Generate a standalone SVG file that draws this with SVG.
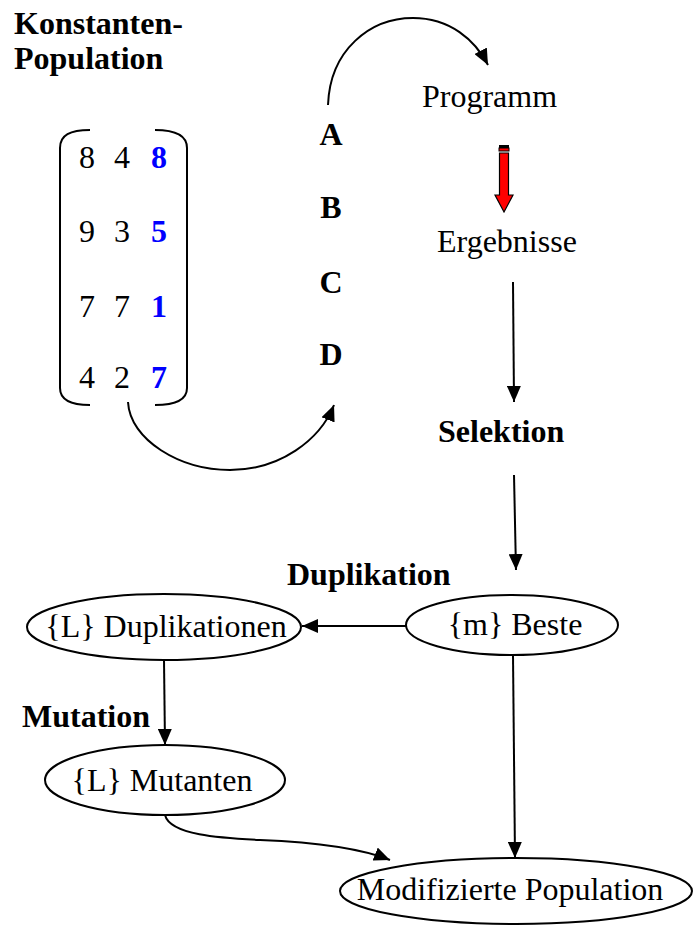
<svg xmlns="http://www.w3.org/2000/svg" width="699" height="928" viewBox="0 0 699 928">
<style>
text{font-family:"Liberation Serif","Times New Roman",serif;font-size:32px;fill:#000}
.b{font-weight:bold}
.blue{fill:#0000ff;font-weight:bold}
.c{text-anchor:middle}
.ln{fill:none;stroke:#000;stroke-width:2}
.node{fill:#fff;stroke:#000;stroke-width:2}
</style>
<defs>
<marker id="ah" markerWidth="16" markerHeight="14" refX="16" refY="7" orient="auto" markerUnits="userSpaceOnUse">
<path d="M0,0 L16,7 L0,14 Z" fill="#000"/>
</marker>
</defs>
<rect width="699" height="928" fill="#fff"/>
<g id="title">
<text class="b" x="14" y="34">Konstanten-</text>
<text class="b" x="14" y="69">Population</text>
</g>
<g id="matrix">
<path class="ln" d="M90,130 C70,130 60,135 60,148 L60,388 C60,400 70,405 90,405"/>
<path class="ln" d="M155,130 C175,130 187,135 187,148 L187,388 C187,400 175,405 155,405"/>
<text class="c" x="87" y="168">8</text><text class="c" x="122" y="168">4</text><text class="c blue" x="159" y="168">8</text>
<text class="c" x="87" y="242">9</text><text class="c" x="122" y="242">3</text><text class="c blue" x="159" y="242">5</text>
<text class="c" x="87" y="317">7</text><text class="c" x="122" y="317">7</text><text class="c blue" x="159" y="317">1</text>
<text class="c" x="87" y="388">4</text><text class="c" x="122" y="388">2</text><text class="c blue" x="159" y="388">7</text>
</g>
<g id="letters">
<text class="b c" x="331" y="145">A</text>
<text class="b c" x="331" y="218">B</text>
<text class="b c" x="331" y="293">C</text>
<text class="b c" x="331" y="365">D</text>
</g>
<g id="programm"><text x="422" y="107">Programm</text></g>
<g id="ergebnisse"><text x="437" y="252">Ergebnisse</text></g>
<g id="selektion"><text class="b" x="438" y="442">Selektion</text></g>
<g id="duplikation-label"><text class="b" x="287" y="585">Duplikation</text></g>
<g id="mutation-label"><text class="b" x="22" y="727">Mutation</text></g>
<g id="duplikationen">
<ellipse class="node" cx="164" cy="627" rx="137" ry="33"/>
<text class="c" x="166" y="637">{L} Duplikationen</text>
</g>
<g id="beste">
<ellipse class="node" cx="512" cy="625" rx="106" ry="30"/>
<text class="c" x="515" y="635">{m} Beste</text>
</g>
<g id="mutanten">
<ellipse class="node" cx="165" cy="780" rx="120" ry="35"/>
<text class="c" x="162" y="791">{L} Mutanten</text>
</g>
<g id="modifizierte">
<ellipse class="node" cx="516" cy="891" rx="176" ry="33"/>
<text class="c" x="510" y="900">Modifizierte Population</text>
</g>
<g id="connectors">
<path class="ln" d="M328,105 C330,50 370,18 413,18 C450,18 475,40 488,65" marker-end="url(#ah)"/>
<path class="ln" d="M128,402 C130,440 180,470 230,470 C280,470 320,440 334,405" marker-end="url(#ah)"/>
<g id="red-arrow">
<rect x="499" y="145" width="10" height="3" fill="#000"/>
<rect x="499" y="148" width="10" height="3" fill="#ff0000" stroke="#000" stroke-width="1"/>
<path d="M499.5,153 L508.5,153 L508.5,195 L513,195 L504,212 L495,195 L499.5,195 Z" fill="#ff0000" stroke="#000" stroke-width="1.2"/>
</g>
<path class="ln" d="M513,282 L514,402" marker-end="url(#ah)"/>
<path class="ln" d="M514,475 L516,570" marker-end="url(#ah)"/>
<path class="ln" d="M406,626 L302,626" marker-end="url(#ah)"/>
<path class="ln" d="M164,660 L165,745" marker-end="url(#ah)"/>
<path class="ln" d="M513,655 L515,858" marker-end="url(#ah)"/>
<path class="ln" d="M165,815 C170,835 220,838 260,840 C310,842 360,848 390,860" marker-end="url(#ah)"/>
</g>
</svg>
